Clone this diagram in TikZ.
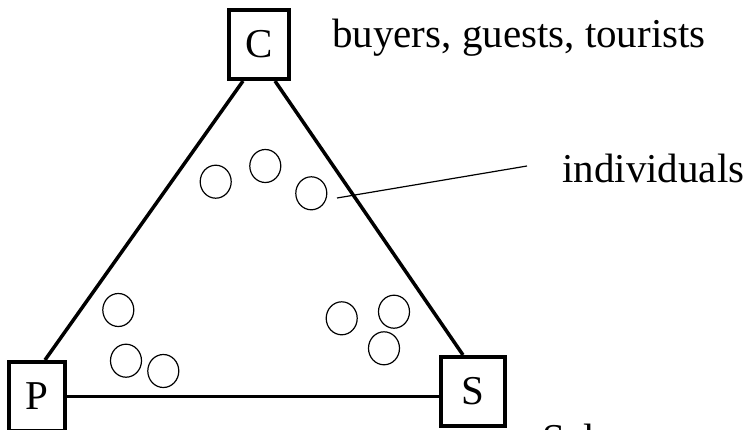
\documentclass[tikz,border=0pt]{standalone}
\usepackage{fontspec}
\setmainfont{Liberation Serif}
\usetikzlibrary{shapes.geometric}
\begin{document}
\begin{tikzpicture}[x=1pt,y=-1pt,
  every node/.style={font=\fontsize{41}{49}\selectfont},
  actor/.style={draw, line width=4pt, rectangle, inner sep=0pt, minimum height=69pt},
  person/.style={draw, line width=1.2pt, ellipse, inner sep=0pt, minimum width=31pt, minimum height=33pt},
  edge/.style={line width=3.5pt},
  label/.style={anchor=base west, inner sep=0pt}]
\useasboundingbox (0,0) rectangle (750,429);
\clip (0,0) rectangle (750,429);
% actors
\node[actor, minimum width=60pt] (C) at (259,44.5) {C};
\node[actor, minimum width=56pt] (P) at (37,396.5) {P};
\node[actor, minimum width=64pt] (S) at (473,391.5) {S};
% triangle
\draw[edge] ([xshift=-16pt]C.south) -- ([xshift=8pt]P.north);
\draw[edge] ([xshift=16pt]C.south) -- ([xshift=-10pt]S.north);
\draw[edge] (P.east) -- (P.east -| S.west);
% individuals
\node[person] (i1) at (215.7,181.7) {};
\node[person] (i2) at (265.3,166) {};
\node[person] (i3) at (311.3,193.3) {};
\node[person] (i4) at (118.3,310) {};
\node[person] (i5) at (126,360.7) {};
\node[person] (i6) at (163.3,371) {};
\node[person] (i7) at (341.7,318.3) {};
\node[person] (i8) at (394,311.7) {};
\node[person] (i9) at (384,348.3) {};
% labels
\node[label] (buyers) at (332,47) {buyers, guests, tourists};
\node[label] (ind) at (562,182) {individuals};
\node[label] (sel) at (542,452) {Sel};
\coordinate (ptrA) at (337,198);
\coordinate (ptrB) at (527,166);
\draw[line width=1.2pt] (ptrA) -- (ptrB);
\end{tikzpicture}
\end{document}
